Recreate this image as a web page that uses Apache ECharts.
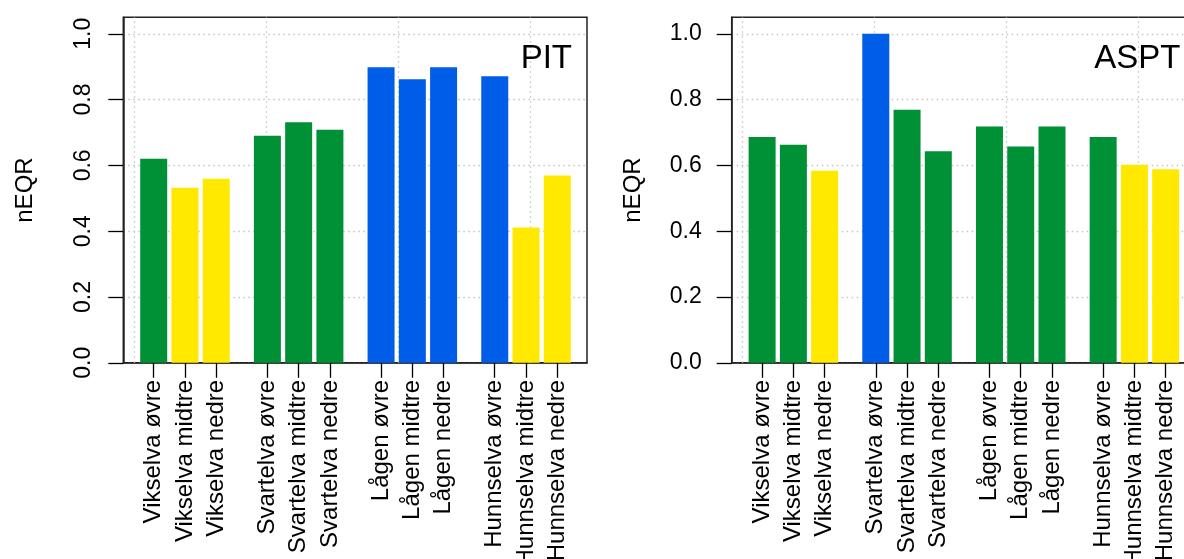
<!DOCTYPE html>
<html><head><meta charset="utf-8">
<script src="https://cdn.jsdelivr.net/npm/echarts@6/dist/echarts.min.js"></script>
<style>html,body{margin:0;padding:0;background:#fff}#c{width:1184px;height:559px}</style>
</head><body><div id="c"></div><script>
// ---- data ----
const categories = ['Vikselva øvre','Vikselva midtre','Vikselva nedre','Svartelva øvre','Svartelva midtre','Svartelva nedre','Lågen øvre','Lågen midtre','Lågen nedre','Hunnselva øvre','Hunnselva midtre','Hunnselva nedre'];
const pitValues  = [0.620,0.532,0.559,0.690,0.731,0.708,0.898,0.862,0.898,0.871,0.411,0.569];
const pitClasses = ['good','moderate','moderate','good','good','good','high','high','high','high','moderate','moderate'];
const asptValues  = [0.686,0.663,0.584,1.000,0.769,0.643,0.718,0.657,0.718,0.686,0.602,0.588];
const asptClasses = ['good','good','moderate','high','good','good','good','good','good','good','moderate','moderate'];
const yTicks = [0, 0.2, 0.4, 0.6, 0.8, 1.0];
const panelTitles = ['PIT', 'ASPT'];

// ---- styling / layout ----
const classColors = { high: '#005DE8', good: '#009036', moderate: '#FFE900' };
const FONT = 'Liberation Sans, Arial, Helvetica, sans-serif';
const GRID_LEFTS = [123.3, 731.7];
const GRID_TOP = 17.3, GRID_W = 463.7, GRID_H = 345.5;
const Y_MAX = 1.05;
const BAR_PITCH = 1.1, GROUP_PITCH = 4.0, PER_GROUP = 3;
const X_MIN = -1.07, X_MAX = 15.246;
const VGRID_START = -0.693, VGRID_STEP = 4.645, VGRID_N = 4;
const positions = categories.map((c, i) => Math.floor(i / PER_GROUP) * GROUP_PITCH + (i % PER_GROUP) * BAR_PITCH);
const vgrid = Array.from({length: VGRID_N}, (_, k) => VGRID_START + k * VGRID_STEP);
function nameAt(v) {
  for (let i = 0; i < positions.length; i++) if (Math.abs(positions[i] - v) < 1e-6) return categories[i];
  return '';
}
const tickLine = { color: '#000', width: 1.3 };
const axisLineStyle = { show: true, onZero: false, lineStyle: { color: '#222', width: 1.5 } };
const panels = [
  { values: pitValues, classes: pitClasses },
  { values: asptValues, classes: asptClasses }
];

const option = {
  animation: false,
  backgroundColor: '#fff',
  textStyle: { fontFamily: FONT },
  grid: GRID_LEFTS.map(l => ({ left: l, top: GRID_TOP, width: GRID_W, height: GRID_H, show: true,
    borderColor: '#222', borderWidth: 1.5, backgroundColor: 'transparent', containLabel: false,
    outerBoundsMode: 'none' })),
  xAxis: panels.map((p, i) => ({
    type: 'value', gridIndex: i, min: X_MIN, max: X_MAX, position: 'bottom',
    axisLine: axisLineStyle, splitLine: { show: false },
    axisTick: { show: true, inside: false, customValues: positions, length: 15, lineStyle: tickLine },
    axisLabel: { customValues: positions, rotate: 90, margin: 17, fontSize: 24, color: '#000',
      fontFamily: FONT, formatter: v => nameAt(v) }
  })),
  yAxis: panels.map((p, i) => ({
    type: 'value', gridIndex: i, min: 0, max: Y_MAX, interval: 0.2, position: 'left',
    axisLine: axisLineStyle,
    axisTick: { show: true, inside: false, customValues: yTicks, length: 15, lineStyle: tickLine },
    axisLabel: { customValues: yTicks, rotate: i === 0 ? 90 : 0, margin: i === 0 ? 28 : 30,
      fontSize: 23, color: '#000', fontFamily: FONT,
      formatter: v => (v > 1.001 ? '' : v.toFixed(1)) },
    splitLine: { show: true, lineStyle: { type: [1.5, 3.5], color: '#c4c4c4', width: 1.3 } },
    name: 'nEQR', nameLocation: 'middle', nameGap: 86,
    nameTextStyle: { fontSize: 24, color: '#000', fontFamily: FONT }
  })),
  series: [],
  graphic: panelTitles.map((t, i) => ({
    type: 'text', z: 100,
    style: { text: t, x: GRID_LEFTS[i] + GRID_W - 15, y: 59, align: 'right', verticalAlign: 'middle',
      font: '33px ' + FONT, fill: '#000' }
  }))
};

panels.forEach((p, i) => {
  option.series.push({
    type: 'scatter', xAxisIndex: i, yAxisIndex: i, data: [], z: 1, silent: true,
    markLine: { silent: true, z: 1, symbol: 'none', label: { show: false },
      lineStyle: { type: [1.5, 3.5], color: '#c4c4c4', width: 1.3 },
      data: vgrid.map(x => ({ xAxis: x })) }
  });
  option.series.push({
    type: 'bar', xAxisIndex: i, yAxisIndex: i, barWidth: 27, z: 3,
    data: p.values.map((v, k) => ({ value: [positions[k], v], itemStyle: { color: classColors[p.classes[k]] } }))
  });
});

const chart = echarts.init(document.getElementById('c'), null, { renderer: 'canvas' });
chart.setOption(option);
</script></body></html>
